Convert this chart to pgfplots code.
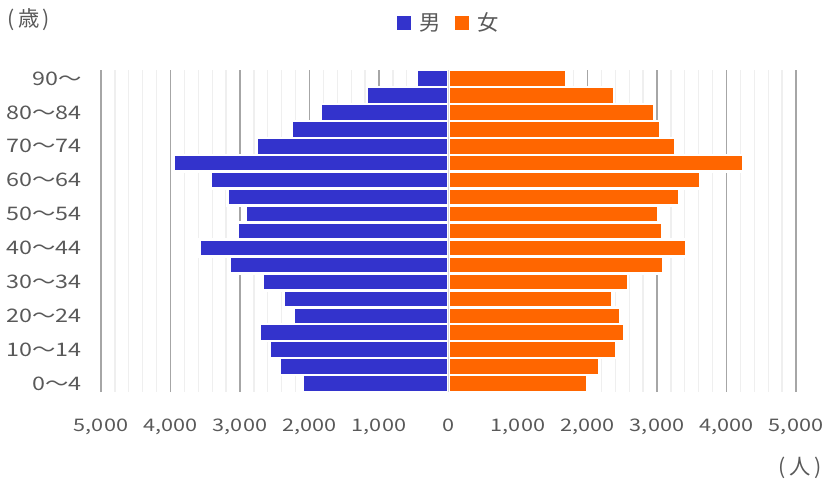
\documentclass[border=0pt]{standalone}
\usepackage{fontspec}
\usepackage{pgfplots}
\usepackage{pgfplotstable}
\pgfplotsset{compat=1.18}
\setmainfont{Noto Sans CJK JP}
\newfontfamily\tickfont[FakeStretch=1.25]{Noto Sans CJK JP}
\definecolor{male}{HTML}{3333CC}
\definecolor{female}{HTML}{FF6600}
\definecolor{txt}{HTML}{595959}
\definecolor{majgrid}{HTML}{A6A6A6}
\definecolor{mingrid}{HTML}{EFEFEF}
\definecolor{zeroax}{HTML}{D9D9D9}

\pgfplotstableread{
y male female
0 -2095 1995
1 -2425 2165
2 -2570 2410
3 -2715 2530
4 -2220 2475
5 -2375 2350
6 -2670 2580
7 -3145 3090
8 -3585 3420
9 -3030 3070
10 -2920 3015
11 -3180 3325
12 -3420 3625
13 -3950 4240
14 -2765 3265
15 -2260 3050
16 -1835 2960
17 -1175 2380
18 -460 1700
}\pop

\begin{document}
\begin{tikzpicture}[x=1pt,y=1pt]
\useasboundingbox (0,0) rectangle (620.25,359.25);
\begin{axis}[
  at={(75.75pt,65.25pt)}, anchor=south west,
  scale only axis, width=521.25pt, height=241.5pt,
  xmin=-5000, xmax=5000, ymin=-0.5, ymax=18.5,
  axis line style={draw=none},
  major tick length=0pt, minor tick length=0pt,
  xtick={-5000,-4000,...,5000},
  minor x tick num=4,
  xmajorgrids, xminorgrids,
  major grid style={color=majgrid, line width=1.1pt},
  minor grid style={color=mingrid, line width=1pt},
  ytick={0,2,...,18},
  yticklabels={0～4,10～14,20～24,30～34,40～44,50～54,60～64,70～74,80～84,90～},
  /pgf/number format/assume math mode=true,
  xticklabel={\pgfmathparse{abs(\tick)}\pgfmathprintnumber[fixed,precision=0,1000 sep={,}]{\pgfmathresult}},
  xticklabel style={font=\tickfont\fontsize{13}{13}\selectfont, text=txt, yshift=-17pt},
  yticklabel style={font=\tickfont\fontsize{14}{14}\selectfont, text=txt, anchor=east, xshift=-11pt},
  legend style={at={(0.501,1.146)}, anchor=center, draw=none, fill=none,
    legend columns=-1, font=\fontsize{16}{16}\selectfont, text=txt,
    /tikz/every odd column/.append style={column sep=4.5pt},
    /tikz/every even column/.append style={column sep=9pt}},
  xbar, bar width=1,
]
\addplot[fill=male, draw=white, line width=1.85pt, bar shift=0pt,
  legend image code/.code={\fill[male] (0pt,-4.1pt) rectangle (8.25pt,4.1pt);}] table[x=male,y=y]{\pop};
\addlegendentry{男}
\addplot[fill=female, draw=white, line width=1.85pt, bar shift=0pt,
  legend image code/.code={\fill[female] (0pt,-4.1pt) rectangle (8.25pt,4.1pt);}] table[x=female,y=y]{\pop};
\addlegendentry{女}
\draw[color=zeroax, line width=1.1pt] (axis cs:0,-0.5) -- (axis cs:0,18.5);
\end{axis}
\node[font=\fontsize{16}{16}\selectfont, text=txt, inner sep=0pt] at (21.6,344.25) {(\kern2.5pt歳\kern2.5pt)};
\node[font=\fontsize{16}{16}\selectfont, text=txt, inner sep=0pt] at (600,8.25) {(\kern2.5pt人\kern2.5pt)};
\end{tikzpicture}
\end{document}
